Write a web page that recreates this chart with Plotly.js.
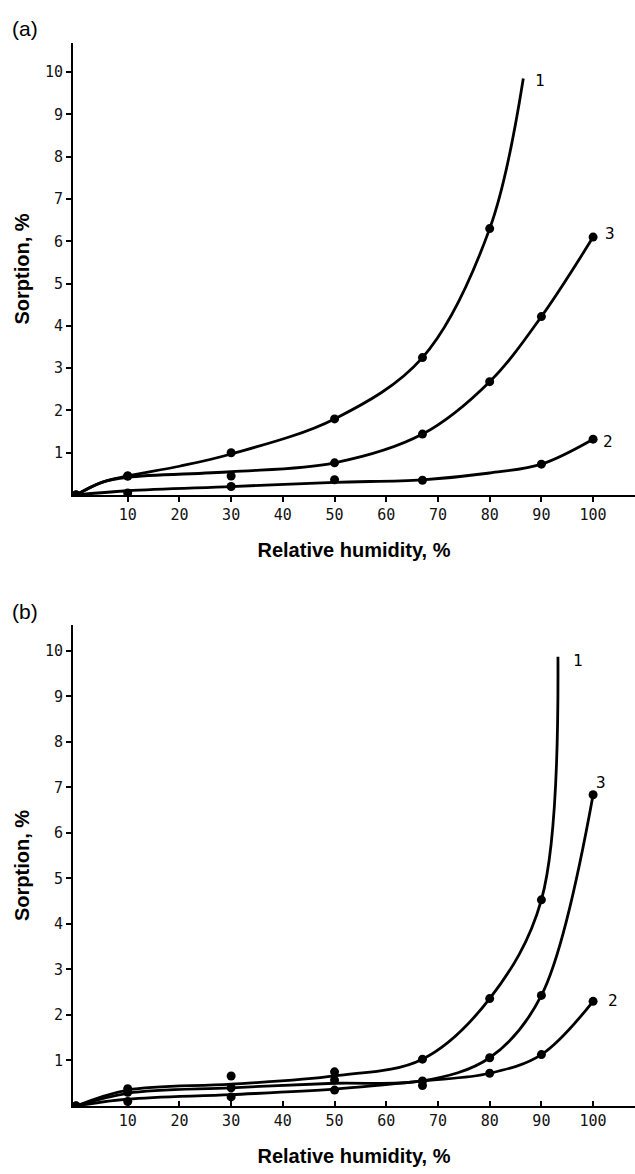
<!DOCTYPE html>
<html>
<head>
<meta charset="utf-8">
<script src="https://cdn.plot.ly/plotly-3.0.1.min.js"></script>
<style>html,body{margin:0;padding:0;background:#fff}#chart{width:635px;height:1174px}</style>
</head>
<body>
<div id="chart"></div>
<script>
// Relative humidity (%) at measured points
const rh = [0, 10, 30, 50, 67, 80, 90, 100];

// Panel (a) measured sorption (%)
const a1 = [0, 0.45, 1.0, 1.8, 3.25, 6.3, null, null];
const a2 = [0, 0.05, 0.2, 0.36, 0.35, null, 0.73, 1.32];
const a3 = [0, 0.45, 0.45, 0.76, 1.44, 2.68, 4.22, 6.1];

// Panel (a) fitted curves
const a1CurveX = [0, 5, 10, 20, 30, 50, 67, 80, 86.5];
const a1CurveY = [0, 0.3, 0.45, 0.68, 0.97, 1.8, 3.25, 6.3, 9.85];
const a2CurveX = [0, 10, 30, 50, 67, 80, 90, 100];
const a2CurveY = [0, 0.1, 0.2, 0.3, 0.36, 0.52, 0.73, 1.32];
const a3CurveX = [0, 5, 10, 30, 50, 67, 80, 90, 100];
const a3CurveY = [0, 0.3, 0.42, 0.55, 0.76, 1.44, 2.68, 4.22, 6.1];

// Panel (b) measured sorption (%)
const b1 = [0, 0.38, 0.66, 0.75, 1.03, 2.36, 4.53, null];
const b2 = [0, 0.1, 0.2, 0.35, 0.45, 0.72, 1.13, 2.3];
const b3 = [0, 0.3, 0.4, 0.57, 0.55, 1.06, 2.43, 6.84];

// Panel (b) fitted curves
const b1CurveX = [0, 10, 30, 50, 67, 80, 90, 93.2];
const b1CurveY = [0, 0.35, 0.48, 0.66, 1.03, 2.36, 4.53, 9.87];
const b2CurveX = [0, 10, 30, 50, 67, 80, 90, 100];
const b2CurveY = [0, 0.15, 0.25, 0.37, 0.55, 0.72, 1.13, 2.3];
const b3CurveX = [0, 10, 30, 50, 67, 80, 90, 100];
const b3CurveY = [0, 0.28, 0.4, 0.5, 0.55, 1.06, 2.43, 6.84];

const yTicks = [1, 2, 3, 4, 5, 6, 7, 8, 9, 10];
const xTicks = [10, 20, 30, 40, 50, 60, 70, 80, 90, 100];
const curveNames = ['1', '2', '3'];

const tickFont = {family: 'DejaVu Sans Mono', size: 15, color: '#111'};
const titleFont = {family: 'Liberation Sans, Arial', size: 20, color: '#000'};

function lineTrace(x, y, xa, ya) {
  return {x: x, y: y, xaxis: xa, yaxis: ya, mode: 'lines', type: 'scatter',
    line: {color: '#000', width: 2.8, shape: 'spline', smoothing: 1}, hoverinfo: 'skip', showlegend: false};
}
function markTrace(y, xa, ya) {
  return {x: rh, y: y, xaxis: xa, yaxis: ya, mode: 'markers', type: 'scatter',
    marker: {color: '#000', size: 9, symbol: 'circle'}, showlegend: false};
}

const data = [
  lineTrace(a1CurveX, a1CurveY, 'x', 'y'), markTrace(a1, 'x', 'y'),
  lineTrace(a2CurveX, a2CurveY, 'x', 'y'), markTrace(a2, 'x', 'y'),
  lineTrace(a3CurveX, a3CurveY, 'x', 'y'), markTrace(a3, 'x', 'y'),
  lineTrace(b1CurveX, b1CurveY, 'x2', 'y2'), markTrace(b1, 'x2', 'y2'),
  lineTrace(b2CurveX, b2CurveY, 'x2', 'y2'), markTrace(b2, 'x2', 'y2'),
  lineTrace(b3CurveX, b3CurveY, 'x2', 'y2'), markTrace(b3, 'x2', 'y2')
];

function xAxis(anchor, ticks) {
  return {domain: [73/635, 1], range: [-0.58, 108.1], anchor: anchor,
    tickvals: xTicks, ticktext: xTicks.map(String), ticks: ticks, ticklen: 5, tickwidth: 2, tickcolor: '#000',
    showline: true, linecolor: '#000', linewidth: 2, showgrid: false, zeroline: false,
    tickfont: tickFont, fixedrange: true,
    title: {text: '<b>Relative humidity, %</b>', font: titleFont, standoff: 20}};
}
function yAxis(anchor, dom, top) {
  return {domain: dom, range: [0, top], anchor: anchor,
    tickvals: yTicks, ticktext: yTicks.map(String), ticks: 'outside', ticklen: 5, tickwidth: 2, tickcolor: '#000',
    showline: true, linecolor: '#000', linewidth: 2, showgrid: false, zeroline: false,
    tickfont: tickFont, fixedrange: true,
    title: {text: '<b>Sorption, %</b>', font: titleFont, standoff: 10}};
}

const labFont = {family: 'DejaVu Sans Mono', size: 16, color: '#000'};
function lab(t, x, y, xr, yr) {
  return {text: t, x: x, y: y, xref: xr, yref: yr, showarrow: false, font: labFont, xanchor: 'center', yanchor: 'middle'};
}

const layout = {
  width: 635, height: 1174,
  margin: {l: 0, r: 0, t: 0, b: 0},
  paper_bgcolor: '#fff', plot_bgcolor: '#fff',
  showlegend: false,
  xaxis: xAxis('y', 'outside'),
  yaxis: yAxis('x', [1 - 495/1174, 1 - 43/1174], 10.69),
  xaxis2: xAxis('y2', 'inside'),
  yaxis2: yAxis('x2', [1 - 1106/1174, 1 - 625/1174], 10.57),
  annotations: [
    lab(curveNames[0], 89.7, 9.8, 'x', 'y'),
    lab(curveNames[2], 103.3, 6.19, 'x', 'y'),
    lab(curveNames[1], 102.9, 1.26, 'x', 'y'),
    lab(curveNames[0], 97.1, 9.78, 'x2', 'y2'),
    lab(curveNames[2], 101.6, 7.12, 'x2', 'y2'),
    lab(curveNames[1], 103.8, 2.31, 'x2', 'y2'),
    {text: '(a)', x: 10/635, y: 1 - 28/1174, xref: 'paper', yref: 'paper', xanchor: 'left', yanchor: 'middle',
      showarrow: false, font: {family: 'Liberation Sans, Arial', size: 21, color: '#000'}},
    {text: '(b)', x: 10/635, y: 1 - 611/1174, xref: 'paper', yref: 'paper', xanchor: 'left', yanchor: 'middle',
      showarrow: false, font: {family: 'Liberation Sans, Arial', size: 21, color: '#000'}}
  ]
};

Plotly.newPlot('chart', data, layout, {staticPlot: true, displayModeBar: false});
</script>
</body>
</html>
